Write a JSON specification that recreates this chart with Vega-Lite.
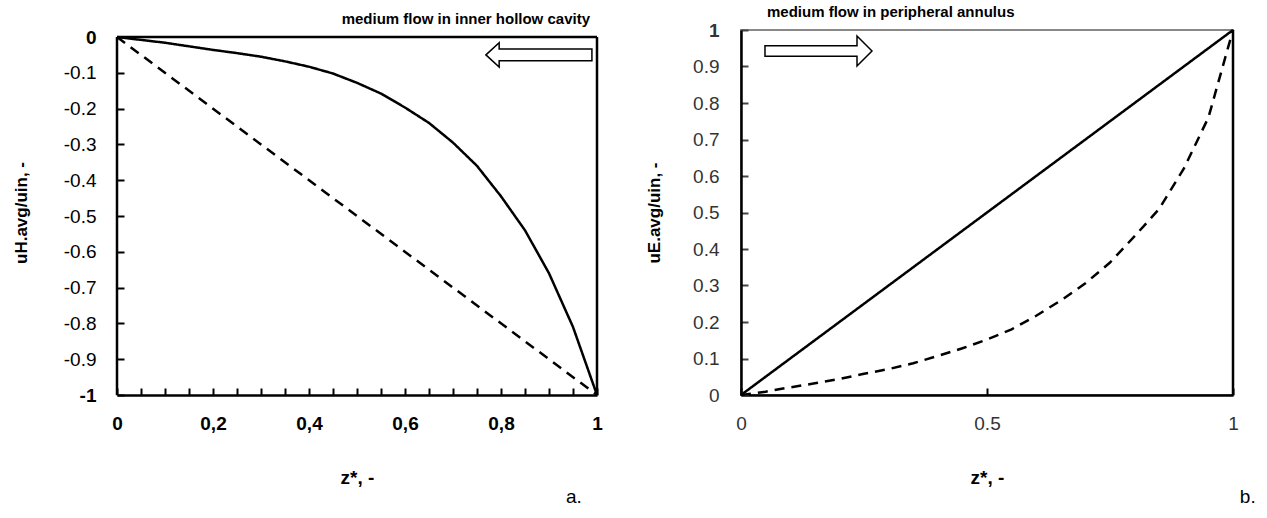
{
  "$schema": "https://vega.github.io/schema/vega-lite/v6.json",
  "background": "white",
  "padding": {"left": 12, "top": 4, "right": 0, "bottom": 0},
  "config": {
    "view": {"stroke": null},
    "font": "Liberation Sans",
    "concat": {"spacing": 41},
    "axis": {"grid": false, "labelFlush": false, "labelOverlap": false, "labelBound": false}
  },
  "datasets": {
    "leftData": [
      {"z": 0, "u": 0, "series": "solid"},
      {"z": 0.05, "u": -0.008, "series": "solid"},
      {"z": 0.1, "u": -0.016, "series": "solid"},
      {"z": 0.15, "u": -0.026, "series": "solid"},
      {"z": 0.2, "u": -0.036, "series": "solid"},
      {"z": 0.25, "u": -0.045, "series": "solid"},
      {"z": 0.3, "u": -0.055, "series": "solid"},
      {"z": 0.35, "u": -0.068, "series": "solid"},
      {"z": 0.4, "u": -0.083, "series": "solid"},
      {"z": 0.45, "u": -0.102, "series": "solid"},
      {"z": 0.5, "u": -0.128, "series": "solid"},
      {"z": 0.55, "u": -0.158, "series": "solid"},
      {"z": 0.6, "u": -0.197, "series": "solid"},
      {"z": 0.65, "u": -0.24, "series": "solid"},
      {"z": 0.7, "u": -0.295, "series": "solid"},
      {"z": 0.75, "u": -0.36, "series": "solid"},
      {"z": 0.8, "u": -0.445, "series": "solid"},
      {"z": 0.85, "u": -0.54, "series": "solid"},
      {"z": 0.9, "u": -0.66, "series": "solid"},
      {"z": 0.95, "u": -0.81, "series": "solid"},
      {"z": 1, "u": -1, "series": "solid"},
      {"z": 0, "u": 0, "series": "dashed"},
      {"z": 1, "u": -1, "series": "dashed"}
    ],
    "rightData": [
      {"z": 0, "u": 0, "series": "solid"},
      {"z": 1, "u": 1, "series": "solid"},
      {"z": 0, "u": 0, "series": "dashed"},
      {"z": 0.05, "u": 0.009, "series": "dashed"},
      {"z": 0.1, "u": 0.021, "series": "dashed"},
      {"z": 0.15, "u": 0.032, "series": "dashed"},
      {"z": 0.2, "u": 0.044, "series": "dashed"},
      {"z": 0.25, "u": 0.058, "series": "dashed"},
      {"z": 0.3, "u": 0.071, "series": "dashed"},
      {"z": 0.35, "u": 0.087, "series": "dashed"},
      {"z": 0.4, "u": 0.107, "series": "dashed"},
      {"z": 0.45, "u": 0.128, "series": "dashed"},
      {"z": 0.5, "u": 0.152, "series": "dashed"},
      {"z": 0.55, "u": 0.18, "series": "dashed"},
      {"z": 0.6, "u": 0.217, "series": "dashed"},
      {"z": 0.65, "u": 0.259, "series": "dashed"},
      {"z": 0.7, "u": 0.306, "series": "dashed"},
      {"z": 0.75, "u": 0.363, "series": "dashed"},
      {"z": 0.8, "u": 0.435, "series": "dashed"},
      {"z": 0.85, "u": 0.51, "series": "dashed"},
      {"z": 0.9, "u": 0.62, "series": "dashed"},
      {"z": 0.95, "u": 0.76, "series": "dashed"},
      {"z": 1, "u": 1, "series": "dashed"}
    ],
    "leftFrame": [
      {"z": 0, "u": 0, "z2": 1, "u2": 0},
      {"z": 0, "u": -1, "z2": 0, "u2": 0},
      {"z": 1, "u": -1, "z2": 1, "u2": 0}
    ],
    "leftNotes": [
      {"z": 0.879, "u": -0.05, "kind": "arrow"},
      {"z": 0.952, "u": -1.285, "kind": "label"}
    ],
    "rightNotes": [
      {"z": 0.1575, "u": 0.9425, "kind": "arrow"},
      {"z": 1.03, "u": -0.279, "kind": "label"}
    ]
  },
  "hconcat": [
    {
      "width": 480,
      "height": 365,
      "title": {"text": "medium flow in inner hollow cavity", "anchor": "end", "frame": "group", "fontSize": 15, "fontWeight": "bold", "offset": 1, "dx": -7, "color": "black"},
      "encoding": {
        "x": {
          "field": "z", "type": "quantitative",
          "scale": {"domain": [0, 1], "nice": false, "zero": false},
          "axis": {
            "title": "z*, -",
            "values": [0, 0.05, 0.1, 0.15, 0.2, 0.25, 0.3, 0.35, 0.4, 0.45, 0.5, 0.55, 0.6, 0.65, 0.7, 0.75, 0.8, 0.85, 0.9, 0.95, 1],
            "labelExpr": "datum.value == 0 ? '0' : datum.value == 1 ? '1' : (round(datum.value * 20) % 4 == 0 ? replace(format(datum.value, '.1f'), '.', ',') : '')",
            "labelFontSize": 19, "labelFontWeight": "bold", "labelColor": "black", "labelPadding": 26, "labelOverlap": false,
            "ticks": true, "tickSize": -7, "tickWidth": 2, "tickColor": "black",
            "domainColor": "black", "domainWidth": 2.5,
            "titleFontSize": 19, "titleFontWeight": "bold", "titleColor": "black", "titlePadding": 35
          }
        },
        "y": {
          "field": "u", "type": "quantitative",
          "scale": {"domain": [-1, 0.0196], "nice": false, "zero": false},
          "axis": {
            "title": "uH.avg/uin, -",
            "values": [0, -0.1, -0.2, -0.3, -0.4, -0.5, -0.6, -0.7, -0.8, -0.9, -1],
            "labelExpr": "datum.value == 0 ? '0' : datum.value == -1 ? '-1' : '-' + format(-datum.value, '.1f')",
            "labelFontSize": 19, "labelColor": "black", "labelPadding": 28, "labelOverlap": false,
            "labelFontWeight": {"condition": {"test": "datum.value == 0 || datum.value == -1", "value": "bold"}, "value": "normal"},
            "ticks": true, "tickSize": -7, "tickWidth": 2, "tickColor": "black",
            "domain": false,
            "titleFontSize": 17, "titleFontWeight": "bold", "titleColor": "black", "titlePadding": 33
          }
        }
      },
      "layer": [
        {
          "data": {"name": "leftFrame"},
          "mark": {"type": "rule", "color": "black", "strokeWidth": 2.5},
          "encoding": {"x2": {"field": "z2"}, "y2": {"field": "u2"}}
        },
        {
          "data": {"name": "leftData"},
          "mark": {"type": "line", "color": "black", "strokeWidth": 2.5},
          "encoding": {
            "detail": {"field": "series", "type": "nominal"},
            "strokeDash": {"field": "series", "type": "nominal", "scale": {"domain": ["solid", "dashed"], "range": [[1, 0], [10, 7]]}, "legend": null}
          }
        },
        {
          "data": {"name": "leftNotes"},
          "transform": [{"filter": "datum.kind == 'arrow'"}],
          "mark": {"type": "point", "shape": "M -1 0 L -0.75 -0.23 L -0.75 -0.11 L 1 -0.11 L 1 0.11 L -0.75 0.11 L -0.75 0.23 Z", "size": 11236, "filled": true, "fill": "white", "stroke": "black", "strokeWidth": 1.5, "opacity": 1}
        },
        {
          "data": {"name": "leftNotes"},
          "transform": [{"filter": "datum.kind == 'label'"}],
          "mark": {"type": "text", "text": "a.", "fontSize": 19, "align": "center", "baseline": "middle", "color": "black"}
        }
      ]
    },
    {
      "width": 492,
      "height": 365,
      "title": {"text": "medium flow in peripheral annulus", "anchor": "start", "frame": "group", "fontSize": 15, "fontWeight": "bold", "offset": 1, "dx": 26, "color": "black"},
      "view": {"stroke": "#888888", "strokeWidth": 2},
      "encoding": {
        "x": {
          "field": "z", "type": "quantitative",
          "scale": {"domain": [0, 1], "nice": false, "zero": false},
          "axis": {
            "title": "z*, -",
            "values": [0, 0.5, 1],
            "labelExpr": "datum.value == 0 ? '0' : datum.value == 1 ? '1' : format(datum.value, '.1f')",
            "labelFontSize": 19, "labelColor": "#333333", "labelPadding": 26, "labelOverlap": false,
            "ticks": true, "tickSize": -7, "tickWidth": 2, "tickColor": "black",
            "domainColor": "black", "domainWidth": 2.5,
            "titleFontSize": 19, "titleFontWeight": "bold", "titleColor": "black", "titlePadding": 35
          }
        },
        "y": {
          "field": "u", "type": "quantitative",
          "scale": {"domain": [0, 1], "nice": false, "zero": false},
          "axis": {
            "title": "uE.avg/uin, -",
            "values": [0, 0.1, 0.2, 0.3, 0.4, 0.5, 0.6, 0.7, 0.8, 0.9, 1],
            "labelExpr": "datum.value == 0 ? '0' : datum.value == 1 ? '1' : format(datum.value, '.1f')",
            "labelFontSize": 19, "labelColor": "#333333", "labelPadding": 29, "labelOverlap": false,
            "labelFontWeight": {"condition": {"test": "datum.value == 1", "value": "bold"}, "value": "normal"},
            "ticks": true, "tickSize": -7, "tickWidth": 2, "tickColor": "#444444",
            "domainColor": "black", "domainWidth": 2.5,
            "titleFontSize": 17, "titleFontWeight": "bold", "titleColor": "black", "titlePadding": 29
          }
        }
      },
      "layer": [
        {
          "data": {"name": "rightData"},
          "mark": {"type": "line", "color": "black", "strokeWidth": 2.5},
          "encoding": {
            "detail": {"field": "series", "type": "nominal"},
            "strokeDash": {"field": "series", "type": "nominal", "scale": {"domain": ["solid", "dashed"], "range": [[1, 0], [10, 8]]}, "legend": null}
          }
        },
        {
          "data": {"name": "rightNotes"},
          "transform": [{"filter": "datum.kind == 'arrow'"}],
          "mark": {"type": "point", "shape": "M 1 0 L 0.72 -0.28 L 0.72 -0.1 L -1 -0.1 L -1 0.1 L 0.72 0.1 L 0.72 0.28 Z", "size": 11449, "filled": true, "fill": "white", "stroke": "black", "strokeWidth": 1.5, "opacity": 1}
        },
        {
          "data": {"name": "rightNotes"},
          "transform": [{"filter": "datum.kind == 'label'"}],
          "mark": {"type": "text", "text": "b.", "fontSize": 19, "align": "center", "baseline": "middle", "color": "black"}
        },
        {
          "data": {"values": [{"z": 1}]},
          "mark": {"type": "rule", "color": "black", "strokeWidth": 2.5},
          "encoding": {"y": null}
        }
      ]
    }
  ]
}
